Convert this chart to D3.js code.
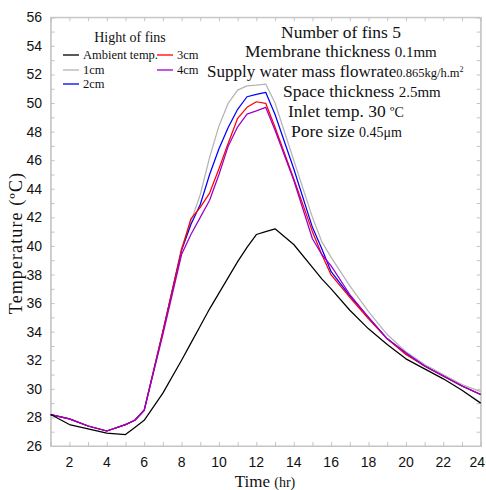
<!DOCTYPE html>
<html>
<head>
<meta charset="utf-8">
<script src="https://cdn.jsdelivr.net/npm/d3@7"></script>
<style>
  html, body { margin: 0; padding: 0; background: #fff; }
  svg { display: block; }
</style>
</head>
<body>
<svg id="chart" width="486" height="490"></svg>
<script>
// Hour of day for each reading
const times = [1, 2, 3, 4, 5, 5.5, 6, 7, 8, 8.5, 9, 9.5, 10, 10.5, 11, 11.5, 12, 12.5, 13, 14, 15, 15.5, 16, 17, 18, 19, 20, 21, 22, 23, 24];

// Temperatures (°C)
const ambient = [28.2, 27.5, 27.2, 26.9, 26.8, 27.3, 27.8, 29.7, 32.0, 33.2, 34.4, 35.6, 36.7, 37.8, 38.9, 39.9, 40.8, 41.0, 41.2, 40.1, 38.5, 37.7, 37.0, 35.5, 34.2, 33.1, 32.1, 31.4, 30.7, 29.9, 29.0];
const fin1cm  = [28.2, 27.9, 27.4, 27.05, 27.5, 27.8, 28.5, 34.0, 39.9, 41.7, 43.6, 46.2, 48.4, 50.0, 50.9, 51.2, 51.25, 51.33, 50.0, 46.0, 42.0, 40.3, 39.2, 37.2, 35.4, 33.8, 32.6, 31.7, 31.0, 30.3, 29.8];
const fin2cm  = [28.2, 27.9, 27.4, 27.05, 27.5, 27.8, 28.5, 34.0, 39.7, 41.5, 42.9, 45.0, 46.8, 48.3, 49.56, 50.44, 50.6, 50.75, 49.2, 45.4, 41.3, 39.8, 38.2, 36.5, 35.0, 33.5, 32.5, 31.6, 30.9, 30.2, 29.6];
const fin3cm  = [28.2, 27.9, 27.4, 27.05, 27.5, 27.8, 28.5, 34.0, 39.7, 41.9, 42.7, 43.7, 45.4, 47.2, 48.93, 49.7, 50.09, 49.98, 48.3, 44.7, 41.0, 39.4, 37.97, 36.4, 34.9, 33.5, 32.4, 31.6, 30.9, 30.2, 29.6];
const fin4cm  = [28.2, 27.9, 27.4, 27.05, 27.5, 27.8, 28.5, 33.8, 39.4, 40.8, 42.0, 43.2, 45.0, 47.0, 48.34, 49.23, 49.45, 49.7, 48.1, 44.6, 40.5, 39.4, 38.6, 36.6, 35.0, 33.5, 32.5, 31.6, 30.9, 30.2, 29.6];

const xTickLabels = [2, 4, 6, 8, 10, 12, 14, 16, 18, 20, 22, 24];
const yTickLabels = [26, 28, 30, 32, 34, 36, 38, 40, 42, 44, 46, 48, 50, 52, 54, 56];

const series = [
  { name: "Ambient temp.", values: ambient, color: "#000000" },
  { name: "1cm", values: fin1cm, color: "#b4b4b4" },
  { name: "2cm", values: fin2cm, color: "#0000ff" },
  { name: "3cm", values: fin3cm, color: "#ff0000" },
  { name: "4cm", values: fin4cm, color: "#9900cc" }
];

const svg = d3.select("#chart");
const plotL = 50.7, plotR = 480.7, plotT = 17.3, plotB = 446;

const x = d3.scaleLinear().domain([1, 24]).range([plotL, plotR]);
const y = d3.scaleLinear().domain([26, 56]).range([plotB, plotT]);

const frameColor = "#c4c4c4";
const sans = "'Liberation Sans', Arial, sans-serif";
const serif = "'Liberation Serif', 'Times New Roman', serif";

// Inward ticks on all four sides, one per unit
const xMinor = d3.range(1, 25);
const yMinor = d3.range(26, 57);

svg.append("g").attr("transform", `translate(0,${plotB})`)
  .call(d3.axisTop(x).tickValues(xMinor).tickSize(4).tickFormat(""))
  .call(g => g.selectAll("line,path").attr("stroke", frameColor));
svg.append("g").attr("transform", `translate(0,${plotT})`)
  .call(d3.axisBottom(x).tickValues(xMinor).tickSize(4).tickFormat(""))
  .call(g => g.selectAll("line,path").attr("stroke", frameColor));
svg.append("g").attr("transform", `translate(${plotL},0)`)
  .call(d3.axisRight(y).tickValues(yMinor).tickSize(4).tickFormat(""))
  .call(g => g.selectAll("line,path").attr("stroke", frameColor));
svg.append("g").attr("transform", `translate(${plotR},0)`)
  .call(d3.axisLeft(y).tickValues(yMinor).tickSize(4).tickFormat(""))
  .call(g => g.selectAll("line,path").attr("stroke", frameColor));

// Frame
svg.append("rect")
  .attr("x", plotL).attr("y", plotT)
  .attr("width", plotR - plotL).attr("height", plotB - plotT)
  .attr("fill", "none").attr("stroke", frameColor).attr("stroke-width", 1);

// Tick labels (the last one is kept inside the canvas)
const lastX = xTickLabels[xTickLabels.length - 1];
svg.append("g").selectAll("text").data(xTickLabels).join("text")
  .attr("x", d => d === lastX ? 485 : x(d)).attr("y", 467)
  .attr("text-anchor", d => d === lastX ? "end" : "middle")
  .attr("font-family", sans).attr("font-size", 14).attr("fill", "#111")
  .text(d => d);

svg.append("g").selectAll("text").data(yTickLabels).join("text")
  .attr("x", 42).attr("y", d => y(d) + 5)
  .attr("text-anchor", "end")
  .attr("font-family", sans).attr("font-size", 14).attr("fill", "#111")
  .text(d => d);

// Axis titles
const xt = svg.append("text")
  .attr("x", 265).attr("y", 487)
  .attr("text-anchor", "middle")
  .attr("font-family", serif).attr("fill", "#111");
xt.append("tspan").attr("font-size", 17).text("Time ");
xt.append("tspan").attr("font-size", 14).text("(hr)");

svg.append("text")
  .attr("transform", "translate(22,243) rotate(-90)")
  .attr("text-anchor", "middle")
  .attr("font-family", serif).attr("font-size", 18)
  .attr("letter-spacing", 1.1).attr("fill", "#111")
  .text("Temperature (ºC)");

// Curves
const line = d3.line()
  .x((d, i) => x(times[i]))
  .y(d => y(d));

const plot = svg.append("g");
// ambient drawn last so it sits on top at the start
[1, 2, 3, 4, 0].forEach(k => {
  plot.append("path")
    .datum(series[k].values)
    .attr("fill", "none")
    .attr("stroke", series[k].color)
    .attr("stroke-width", 1.25)
    .attr("stroke-linejoin", "round")
    .attr("d", line);
});

// Legend
svg.append("text")
  .attr("x", 130).attr("y", 42)
  .attr("text-anchor", "middle")
  .attr("font-family", serif).attr("font-size", 14).attr("fill", "#111")
  .text("Hight of fins");

const legendPos = [
  { lx: 63, ly: 55 },
  { lx: 63, ly: 70 },
  { lx: 63, ly: 84 },
  { lx: 157, ly: 55 },
  { lx: 157, ly: 70 }
];
const legend = svg.append("g");
series.forEach((s, i) => {
  const p = legendPos[i];
  legend.append("line")
    .attr("x1", p.lx).attr("x2", p.lx + 16)
    .attr("y1", p.ly).attr("y2", p.ly)
    .attr("stroke", s.color).attr("stroke-width", 1.3);
  legend.append("text")
    .attr("x", p.lx + 20).attr("y", p.ly + 4)
    .attr("font-family", serif).attr("font-size", 12.5).attr("fill", "#111")
    .text(s.name);
});

// Operating conditions
const notes = [
  { x: 281, y: 38, parts: [["Number of fins 5", 17.5]] },
  { x: 245, y: 57, parts: [["Membrane thickness ", 17.5], ["0.1mm", 15]] },
  { x: 207, y: 77, parts: [["Supply water mass flowrate", 17], ["0.865kg/h.m", 12.5], ["2", 8, -5]] },
  { x: 283, y: 97, parts: [["Space thickness ", 17.5], ["2.5mm", 15]] },
  { x: 288, y: 117, parts: [["Inlet temp. 30 ", 17.5], ["ºC", 14]] },
  { x: 291, y: 137, parts: [["Pore size ", 17.5], ["0.45μm", 14]] }
];
notes.forEach(n => {
  const t = svg.append("text")
    .attr("x", n.x).attr("y", n.y)
    .attr("font-family", serif).attr("fill", "#111");
  n.parts.forEach(([txt, size, dy]) => {
    const ts = t.append("tspan").attr("font-size", size).text(txt);
    if (dy) ts.attr("dy", dy);
  });
});
</script>
</body>
</html>
